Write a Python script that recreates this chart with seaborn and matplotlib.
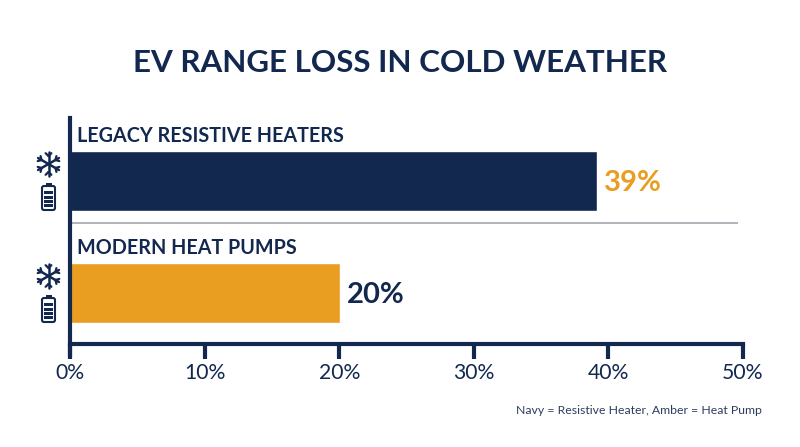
import matplotlib
matplotlib.use("Agg")
import matplotlib.pyplot as plt
from matplotlib.patches import FancyBboxPatch, Rectangle
import numpy as np
import pandas as pd
import seaborn as sns

heaters = ['LEGACY RESISTIVE HEATERS', 'MODERN HEAT PUMPS']
range_loss = [39.15, 20.05]
value_labels = ['39%', '20%']
x_ticks = [0, 10, 20, 30, 40, 50]
x_tick_labels = ['0%', '10%', '20%', '30%', '40%', '50%']

NAVY = '#12284f'
AMBER = '#e99e21'

sns.set_theme(style='white')
plt.rcParams['font.family'] = ['Lato', 'DejaVu Sans']

df = pd.DataFrame({'heater': heaters, 'loss': range_loss})

W, H = 800, 447
fig = plt.figure(figsize=(8, 4.47), dpi=100)
ax = fig.add_axes([70 / W, 1 - 344 / H, 673 / W, 226 / H])

sns.barplot(data=df, x='loss', y='heater', hue='heater', palette=[NAVY, AMBER],
            width=0.53, legend=False, saturation=1, ax=ax)
ax.set_xlim(0, 50)
ax.set_ylim(1.456, -0.562)
ax.set_xlabel('')
ax.set_ylabel('')
ax.set_yticks([])
ax.set_xticks(x_ticks)
ax.set_xticklabels(x_tick_labels, fontsize=15.2, color=NAVY)
ax.tick_params(axis='x', length=11, width=3, color=NAVY, pad=3, bottom=True)
sns.despine(ax=ax)
for side in ['left', 'bottom']:
    ax.spines[side].set_color(NAVY)
    ax.spines[side].set_linewidth(3)
ax.spines['left'].set_bounds(1.456 + 11 / 112, -0.562)
ax.spines['left'].set_clip_on(False)

# divider between the two groups
ax.plot([0, 49.6], [0.375, 0.375], color='#a3a6ab', lw=1.2, solid_capstyle='butt')

value_colors = [AMBER, NAVY]
for i, name in enumerate(heaters):
    ax.text(0.55, i - 0.31, name, fontsize=14.2, fontweight='bold', color=NAVY,
            ha='left', va='bottom')
    ax.text(range_loss[i] + 0.55, i + 0.02, value_labels[i], fontsize=21,
            fontweight='bold', color=value_colors[i], ha='left', va='center')

# overlay in pixel coordinates for the title, footnote and icons
ov = fig.add_axes([0, 0, 1, 1])
ov.set_xlim(0, W)
ov.set_ylim(H, 0)
ov.axis('off')
ov.patch.set_alpha(0)

ov.text(400, 63, 'EV RANGE LOSS IN COLD WEATHER', fontsize=22.6, fontweight='bold',
        color=NAVY, ha='center', va='center')
ov.text(762, 411, 'Navy = Resistive Heater, Amber = Heat Pump', fontsize=8.8,
        color='#2c3d5e', ha='right', va='center')


def draw_icon(cy_snow, cy_batt, cx=48.5):
    r = 12
    for a in np.deg2rad([90, 30, 150]):
        dx, dy = r * np.cos(a), r * np.sin(a)
        ov.plot([cx - dx, cx + dx], [cy_snow - dy, cy_snow + dy], color=NAVY, lw=1.8)
    for a in np.deg2rad(np.arange(30, 360, 60)):
        bx, by = cx + 8 * np.cos(a), cy_snow + 8 * np.sin(a)
        for da in [-0.8, 0.8]:
            ov.plot([bx, bx + 4 * np.cos(a + da)], [by, by + 4 * np.sin(a + da)],
                    color=NAVY, lw=1.6)
    ov.add_patch(FancyBboxPatch((cx - 6.5, cy_batt - 11.5), 13, 24,
                                boxstyle='round,pad=0,rounding_size=2',
                                fc='white', ec=NAVY, lw=1.5))
    ov.add_patch(Rectangle((cx - 3, cy_batt - 14.5), 6, 3, fc=NAVY, ec='none'))
    for off in [-5, -0.5, 4, 8]:
        ov.add_patch(Rectangle((cx - 4.5, cy_batt + off - 1.5), 9, 3.2, fc=NAVY, ec='none'))


draw_icon(164, 197.5)
draw_icon(276, 309.5)

fig.savefig('out.png', dpi=100)
